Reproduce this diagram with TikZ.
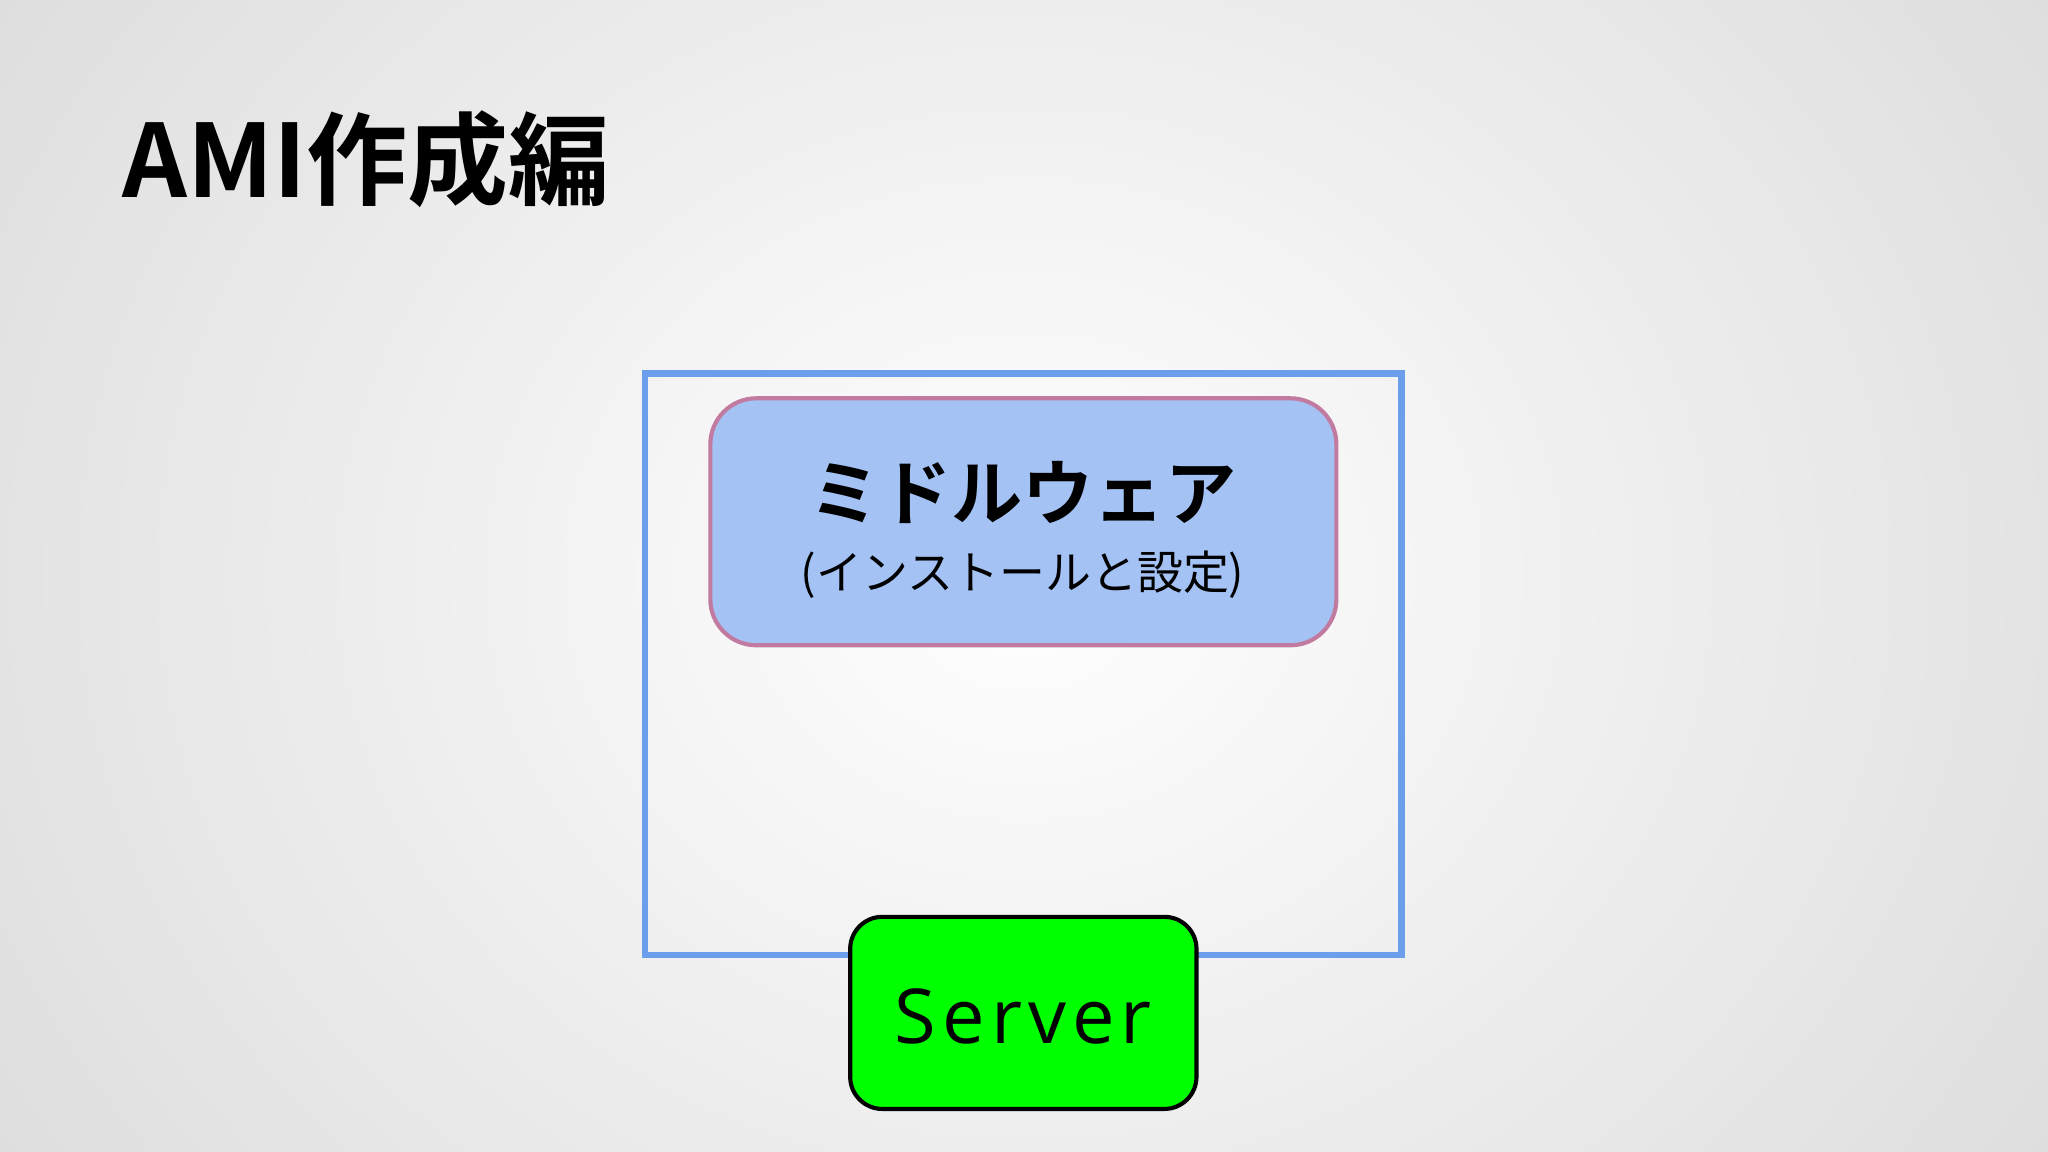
\documentclass[tikz,border=0pt]{standalone}
\usepackage{fontspec}
\newfontfamily\cjk{Noto Sans CJK JP}
\newfontfamily\cjkb{Noto Sans CJK JP Bold}
\newfontfamily\opens[LetterSpace=8]{Open Sans}
\definecolor{outerblue}{HTML}{6D9EEB}
\definecolor{innerfill}{HTML}{A4C2F4}
\definecolor{innerdraw}{HTML}{C27BA0}
\definecolor{srvgreen}{HTML}{00FF00}
\tikzset{
  outerbox/.style={draw=outerblue,line width=1.4pt,inner sep=0},
  midbox/.style={draw=innerdraw,line width=0.9pt,fill=innerfill,rounded corners=10pt,inner sep=0},
  srvbox/.style={draw=black,line width=0.9pt,fill=srvgreen,rounded corners=7pt,inner sep=0}
}
\begin{document}
\begin{tikzpicture}[x=0.01cm,y=-0.01cm]
\useasboundingbox (0,0) rectangle (1568,882);
\shade[inner color=white,outer color=black!15] (-300,-500) rectangle (1868,1382);
\node[anchor=west,inner sep=0,font=\cjkb\fontsize{22}{26}\selectfont] (title) at (93,122) {AMI作成編};
\node[outerbox,minimum width=5.79cm,minimum height=4.45cm] (outer) at (783.5,508.5) {};
\node[midbox,minimum width=4.79cm,minimum height=1.89cm] (mid) at (783.5,399.5) {};
\node[font=\cjkb\fontsize{15.5}{19}\selectfont] (mw) at (783,377) {ミドルウェア};
\node[font=\cjk\fontsize{10}{12}\selectfont] (sub) at (783,440) {(インストールと設定)};
\node[srvbox,minimum width=2.65cm,minimum height=1.47cm] (srv) at (783.5,775.5) {};
\node[font=\opens\fontsize{16.5}{19}\selectfont] (srvt) at (783.5,778) {Server};
\end{tikzpicture}
\end{document}
